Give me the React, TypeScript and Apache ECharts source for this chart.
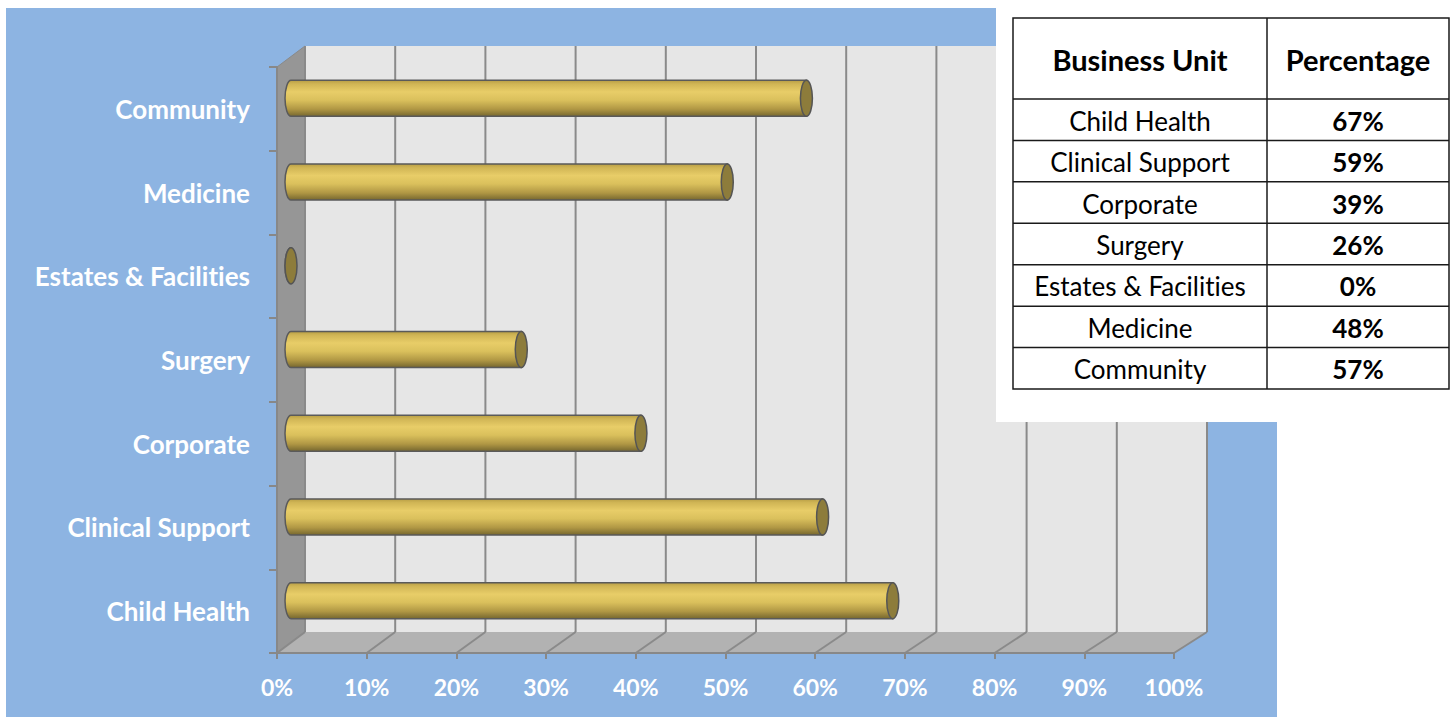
import React, { useEffect, useRef } from "react";
import * as echarts from "echarts";

// ---- data ----
const categories: string[] = [
  "Child Health",
  "Clinical Support",
  "Corporate",
  "Surgery",
  "Estates & Facilities",
  "Medicine",
  "Community",
];
// bar lengths (fraction of 100%)
const values: number[] = [0.669, 0.591, 0.389, 0.256, 0, 0.485, 0.573];
// percentages as printed in the table
const tablePercent: number[] = [67, 59, 39, 26, 0, 48, 57];
const xTicks: number[] = [0, 0.1, 0.2, 0.3, 0.4, 0.5, 0.6, 0.7, 0.8, 0.9, 1];
const tableHeaders: string[] = ["Business Unit", "Percentage"];

// ---- style / layout constants ----
const FONT = 'Lato, "Noto Sans", sans-serif';
const DX0 = 28;
const DX1 = 33;
const DY = -21;

const pct = (v: number) => Math.round(v * 100) + "%";

export default function App() {
  const ref = useRef<HTMLDivElement>(null);

  useEffect(() => {
    if (!ref.current) return;
    const chart = echarts.init(ref.current, undefined, { renderer: "svg" });

    const offFn = (cs: any) => (x: number) =>
      DX0 + ((DX1 - DX0) * (x - cs.x)) / cs.width;

    const wallsRender = (params: any, api: any) => {
      const cs = params.coordSys;
      const off = offFn(cs);
      const x0 = cs.x;
      const x1 = cs.x + cs.width;
      const yT = cs.y;
      const yB = cs.y + cs.height;
      const back = (x: number, y: number) => [x + off(x), y + DY];
      const children: any[] = [];
      children.push({
        type: "polygon",
        shape: { points: [[x0, yT], back(x0, yT), back(x0, yB), [x0, yB]] },
        style: { fill: "#969696", stroke: "#8a8a8a", lineWidth: 1 },
      });
      children.push({
        type: "polygon",
        shape: { points: [back(x0, yT), back(x1, yT), back(x1, yB), back(x0, yB)] },
        style: { fill: "#E6E6E6" },
      });
      children.push({
        type: "polygon",
        shape: { points: [[x0, yB], [x1, yB], back(x1, yB), back(x0, yB)] },
        style: { fill: "#B2B2B2" },
      });
      xTicks.forEach((t) => {
        const fx = api.coord([t, 0])[0];
        const bt = back(fx, yT);
        const bb = back(fx, yB);
        children.push({
          type: "line",
          shape: { x1: bt[0], y1: bt[1], x2: bb[0], y2: bb[1] },
          style: { stroke: "#8A8A8A", lineWidth: 2 },
        });
        children.push({
          type: "line",
          shape: { x1: bb[0], y1: bb[1], x2: fx, y2: yB },
          style: { stroke: "#8A8A8A", lineWidth: 2 },
        });
      });
      return { type: "group", children };
    };

    const barsRender = (params: any, api: any) => {
      const cs = params.coordSys;
      const off = offFn(cs);
      const v = api.value(0);
      const i = api.value(1);
      const s = api.coord([0, i]);
      const e = api.coord([v, i]);
      const band = api.size([0, 1])[1];
      const ry = (band * 0.43) / 2;
      const rx = 6;
      const x0 = s[0] + off(s[0]) / 2;
      const x1 = e[0] + off(e[0]) / 2;
      const yc = s[1] + DY / 2;
      const pathData = `M${x0},${yc - ry} L${x1},${yc - ry} L${x1},${yc + ry} L${x0},${yc + ry} A${rx},${ry} 0 0 1 ${x0},${yc - ry} Z`;
      return {
        type: "group",
        children: [
          {
            type: "path",
            shape: { pathData },
            style: {
              fill: new echarts.graphic.LinearGradient(0, 0, 0, 1, [
                { offset: 0, color: "#B89E45" },
                { offset: 0.1, color: "#D0B555" },
                { offset: 0.32, color: "#E8CD68" },
                { offset: 0.55, color: "#DAC05C" },
                { offset: 0.8, color: "#B09744" },
                { offset: 1, color: "#76672F" },
              ]),
              stroke: "#5A5A5A",
              lineWidth: 1.5,
            },
          },
          {
            type: "ellipse",
            shape: { cx: x1, cy: yc, rx, ry },
            style: { fill: "#8D7C3B", stroke: "#555555", lineWidth: 1.5 },
          },
        ],
      };
    };

    // table graphic
    const tblX0 = 1013, tblX1 = 1449, colX = 1267, tblY0 = 18, headY = 99, tblY1 = 389;
    const rowH = (tblY1 - headY) / categories.length;
    const c1 = (tblX0 + colX) / 2;
    const c2 = (colX + tblX1) / 2;
    const gEls: any[] = [
      { type: "rect", z: 100, shape: { x: 996, y: 0, width: 457, height: 422 }, style: { fill: "#ffffff" } },
      { type: "rect", z: 102, shape: { x: tblX0, y: tblY0, width: tblX1 - tblX0, height: tblY1 - tblY0 }, style: { fill: "none", stroke: "#1a1a1a", lineWidth: 1.5 } },
      { type: "line", z: 102, shape: { x1: colX, y1: tblY0, x2: colX, y2: tblY1 }, style: { stroke: "#1a1a1a", lineWidth: 1.5 } },
    ];
    for (let k = 0; k < categories.length; k++) {
      const y = headY + k * rowH;
      gEls.push({ type: "line", z: 102, shape: { x1: tblX0, y1: y, x2: tblX1, y2: y }, style: { stroke: "#1a1a1a", lineWidth: 1.5 } });
    }
    gEls.push({ type: "text", z: 103, style: { text: tableHeaders[0], x: c1, y: (tblY0 + headY) / 2 + 1, align: "center", verticalAlign: "middle", fontSize: 29, fontWeight: "bold", fontFamily: FONT, fill: "#000" } });
    gEls.push({ type: "text", z: 103, style: { text: tableHeaders[1], x: c2, y: (tblY0 + headY) / 2 + 1, align: "center", verticalAlign: "middle", fontSize: 29, fontWeight: "bold", fontFamily: FONT, fill: "#000" } });
    categories.forEach((c, k) => {
      const y = headY + (k + 0.5) * rowH + 1;
      gEls.push({ type: "text", z: 103, style: { text: c, x: c1, y, align: "center", verticalAlign: "middle", fontSize: 26, fontFamily: FONT, fill: "#000" } });
      gEls.push({ type: "text", z: 103, style: { text: tablePercent[k] + "%", x: c2, y, align: "center", verticalAlign: "middle", fontSize: 26, fontWeight: "bold", fontFamily: FONT, fill: "#000" } });
    });

    chart.setOption({
      animation: false,
      backgroundColor: "transparent",
      grid: { left: 277, right: 279, top: 67, bottom: 64, containLabel: false },
      xAxis: {
        type: "value",
        min: 0,
        max: 1,
        interval: 0.1,
        z: 5,
        axisLine: { show: true, lineStyle: { color: "#888888", width: 2 } },
        axisTick: { show: true, length: 6, lineStyle: { color: "#888888", width: 2 } },
        splitLine: { show: false },
        axisLabel: {
          formatter: (v: number) => pct(v),
          color: "#ffffff",
          fontWeight: "bold",
          fontSize: 23,
          fontFamily: FONT,
          margin: 22,
        },
      },
      yAxis: {
        type: "category",
        data: categories,
        z: 5,
        axisLine: { show: true, lineStyle: { color: "#888888", width: 2 } },
        axisTick: { show: true, length: 8, lineStyle: { color: "#888888", width: 2 } },
        splitLine: { show: false },
        axisLabel: {
          color: "#ffffff",
          fontWeight: "bold",
          fontSize: 26,
          fontFamily: FONT,
          margin: 27,
        },
      },
      graphic: { elements: gEls },
      series: [
        {
          type: "custom",
          z: 1,
          clip: false,
          renderItem: wallsRender,
          data: [[0, 0]],
          encode: { x: 0, y: 1 },
          silent: true,
        },
        {
          type: "custom",
          z: 10,
          clip: false,
          renderItem: barsRender,
          data: values.map((v, i) => [v, i]),
          encode: { x: 0, y: 1 },
        },
      ],
    });

    return () => chart.dispose();
  }, []);

  return (
    <div style={{ position: "absolute", left: 0, top: 0, width: 1453, height: 717, background: "#ffffff", overflow: "hidden" }}>
      <div style={{ position: "absolute", left: 6, top: 8, width: 1271, height: 709, background: "#8DB4E2" }} />
      <div
        ref={ref}
        style={{
          position: "absolute",
          left: 0,
          top: 0,
          width: 1453,
          height: 717,
          fontVariantLigatures: "none",
          fontFeatureSettings: '"liga" 0, "clig" 0',
        }}
      />
    </div>
  );
}
